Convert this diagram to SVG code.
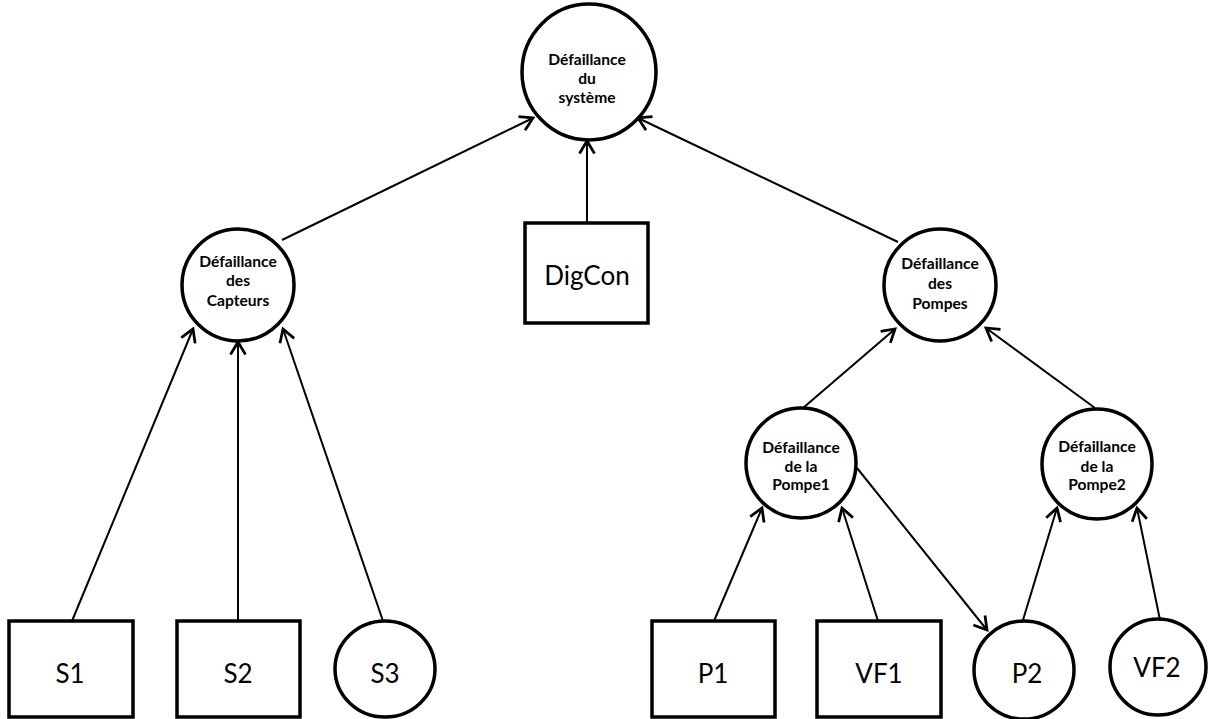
<svg xmlns="http://www.w3.org/2000/svg" width="1212" height="719" viewBox="0 0 1212 719">
<style>
.n{fill:#fff;stroke:#000;stroke-width:3.5}
.c{stroke:#000;stroke-width:2;fill:none}
.t{font-family:Lato,"Liberation Sans",sans-serif;font-weight:bold;font-size:15.6px;text-anchor:middle;fill:#000}
.b{font-family:Lato,"Liberation Sans",sans-serif;font-size:26px;text-anchor:middle;fill:#000}
</style>
<defs>
<marker id="a" markerUnits="userSpaceOnUse" markerWidth="20" markerHeight="20" viewBox="-12 -8 14 16" refX="0" refY="0" orient="auto">
<path d="M-10,-6 L0,0 L-10,6" fill="none" stroke="#000" stroke-width="2.2"/>
</marker>
</defs>
<rect width="1212" height="719" fill="#fff"/>
<g id="connectors">
<line class="c" x1="282" y1="240" x2="533" y2="118" marker-end="url(#a)"/>
<line class="c" x1="898" y1="242" x2="638" y2="118" marker-end="url(#a)"/>
<line class="c" x1="587" y1="223" x2="587" y2="141" marker-end="url(#a)"/>
<line class="c" x1="72" y1="621" x2="193" y2="329" marker-end="url(#a)"/>
<line class="c" x1="238" y1="621" x2="238" y2="342" marker-end="url(#a)"/>
<line class="c" x1="383" y1="621" x2="283" y2="329" marker-end="url(#a)"/>
<line class="c" x1="803" y1="408" x2="895" y2="329" marker-end="url(#a)"/>
<line class="c" x1="1095" y1="408" x2="986" y2="328" marker-end="url(#a)"/>
<line class="c" x1="714" y1="621" x2="762" y2="508" marker-end="url(#a)"/>
<line class="c" x1="878" y1="621" x2="842" y2="508" marker-end="url(#a)"/>
<line class="c" x1="857" y1="468" x2="987" y2="630" marker-end="url(#a)"/>
<line class="c" x1="1023" y1="620" x2="1057" y2="508" marker-end="url(#a)"/>
<line class="c" x1="1160" y1="620" x2="1137" y2="508" marker-end="url(#a)"/>
</g>
<g id="top"><ellipse class="n" cx="589" cy="72" rx="67" ry="68"/>
<text class="t" x="587" y="65">Défaillance</text><text class="t" x="587" y="84">du</text><text class="t" x="587" y="103">système</text></g>
<g id="capteurs"><circle class="n" cx="238" cy="285" r="56"/>
<text class="t" x="238" y="267">Défaillance</text><text class="t" x="238" y="286">des</text><text class="t" x="238" y="306">Capteurs</text></g>
<g id="digcon"><rect class="n" x="525" y="223" width="123" height="100"/><text class="b" x="587" y="285">DigCon</text></g>
<g id="pompes"><circle class="n" cx="940" cy="285" r="56"/>
<text class="t" x="940" y="269">Défaillance</text><text class="t" x="940" y="289">des</text><text class="t" x="940" y="309">Pompes</text></g>
<g id="pompe1"><circle class="n" cx="801" cy="463" r="55"/>
<text class="t" x="801" y="453">Défaillance</text><text class="t" x="801" y="472">de la</text><text class="t" x="801" y="490">Pompe1</text></g>
<g id="pompe2"><circle class="n" cx="1097" cy="464" r="55"/>
<text class="t" x="1097" y="452">Défaillance</text><text class="t" x="1097" y="472">de la</text><text class="t" x="1097" y="490">Pompe2</text></g>
<g id="s1"><rect class="n" x="9" y="621" width="124" height="96"/><text class="b" x="70" y="683">S1</text></g>
<g id="s2"><rect class="n" x="177" y="621" width="123" height="96"/><text class="b" x="238" y="683">S2</text></g>
<g id="s3"><ellipse class="n" cx="385" cy="669" rx="50" ry="48"/><text class="b" x="385" y="683">S3</text></g>
<g id="p1"><rect class="n" x="652" y="621" width="123" height="96"/><text class="b" x="713" y="683">P1</text></g>
<g id="vf1"><rect class="n" x="817" y="621" width="124" height="96"/><text class="b" x="879" y="683">VF1</text></g>
<g id="p2"><ellipse class="n" cx="1024" cy="670" rx="50" ry="49"/><text class="b" x="1027" y="683">P2</text></g>
<g id="vf2"><ellipse class="n" cx="1158" cy="667" rx="48" ry="48"/><text class="b" x="1157" y="677">VF2</text></g>
</svg>
